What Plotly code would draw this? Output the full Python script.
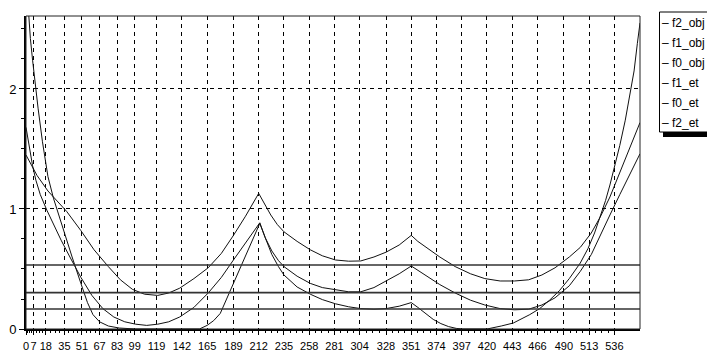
import plotly.graph_objects as go

# ---------------- data ----------------
x_ticks = [0, 7, 18, 35, 51, 67, 83, 99, 119, 142, 165, 189, 212, 235, 258,
           281, 304, 328, 351, 374, 397, 420, 443, 466, 490, 513, 536]
y_ticks = [0, 1, 2]

# top curve (min ~0.28)
x_f2_obj = [0, 5, 10, 20, 30, 37, 50, 62, 75, 86, 97, 108, 120, 130, 140, 153, 166,
            178, 189, 200, 212, 218, 223, 229, 235, 247, 259, 270, 282, 294, 305, 317,
            328, 340, 351, 357, 363, 370, 377, 391, 405, 418, 432, 445, 458, 470, 482,
            495, 505, 515, 523, 532, 541, 550, 559.4]
y_f2_obj = [1.45, 1.36, 1.28, 1.15, 1.05, 0.98, 0.82, 0.66, 0.52, 0.41, 0.33, 0.29,
            0.28, 0.30, 0.34, 0.42, 0.51, 0.63, 0.78, 0.94, 1.13, 1.03, 0.95, 0.87,
            0.81, 0.73, 0.66, 0.61, 0.575, 0.565, 0.567, 0.60, 0.64, 0.70, 0.78, 0.73,
            0.69, 0.64, 0.60, 0.52, 0.46, 0.42, 0.40, 0.40, 0.41, 0.45, 0.51, 0.60,
            0.68, 0.80, 0.93, 1.10, 1.30, 1.50, 1.72]

# middle curve (min ~0.03)
x_f1_obj = [0, 3, 6, 9, 13, 19, 25, 32, 40, 50, 60, 70, 80, 90, 100, 110, 120, 130,
            140, 153, 166, 178, 189, 200, 213, 218, 224, 230, 235, 247, 259, 270, 282,
            294, 305, 317, 328, 340, 351, 357, 363, 370, 377, 391, 405, 418, 432, 445,
            458, 470, 482, 495, 505, 515, 523, 532, 541, 550, 559.4]
y_f1_obj = [1.68, 1.50, 1.36, 1.24, 1.12, 0.99, 0.87, 0.74, 0.60, 0.43, 0.28, 0.17,
            0.10, 0.06, 0.04, 0.03, 0.04, 0.06, 0.10, 0.18, 0.30, 0.43, 0.575, 0.72,
            0.885, 0.76, 0.65, 0.57, 0.52, 0.44, 0.38, 0.345, 0.325, 0.31, 0.31, 0.345,
            0.40, 0.46, 0.525, 0.49, 0.45, 0.41, 0.37, 0.30, 0.24, 0.20, 0.17, 0.16,
            0.165, 0.20, 0.26, 0.36, 0.48, 0.62, 0.78, 0.95, 1.12, 1.28, 1.46]

# steep curve (touches 0)
x_f0_obj = [0, 2, 4, 6, 8, 11, 15, 20, 25, 29, 35, 42, 50, 56, 61, 67, 75, 85, 100,
            158, 165, 171, 177, 185, 193, 203, 213, 218, 224, 230, 235, 247, 259, 270,
            282, 294, 305, 317, 328, 340, 351, 357, 364, 371, 378, 385, 392, 398, 420,
            426, 433, 444, 451, 459, 468, 477, 486, 495, 505, 512, 518, 523, 528, 532,
            537, 541, 546, 550, 554, 557, 559.4]
y_f0_obj = [2.95, 2.65, 2.42, 2.24, 2.06, 1.84, 1.56, 1.27, 1.09, 0.97, 0.80, 0.60,
            0.38, 0.22, 0.12, 0.06, 0.025, 0.008, 0.0, 0.0, 0.03, 0.07, 0.13, 0.30,
            0.47, 0.67, 0.88, 0.76, 0.62, 0.52, 0.45, 0.35, 0.29, 0.245, 0.21, 0.185,
            0.17, 0.165, 0.17, 0.19, 0.22, 0.18, 0.13, 0.08, 0.045, 0.02, 0.005, 0.0,
            0.0, 0.01, 0.025, 0.05, 0.08, 0.12, 0.17, 0.24, 0.32, 0.42, 0.55, 0.67,
            0.80, 0.93, 1.07, 1.20, 1.37, 1.53, 1.74, 1.93, 2.15, 2.38, 2.55]

f1_et = 0.533
f0_et = 0.303
f2_et = 0.167

legend_names = ["f2_obj", "f1_obj", "f0_obj", "f1_et", "f0_et", "f2_et"]

X_MIN, X_MAX = 0, 559.4
Y_MIN, Y_MAX = 0, 2.608

# ---------------- layout geometry (page pixels) ----------------
PAGE_OFF = 8                      # default body margin of the html page
W, H = 715 - PAGE_OFF, 351 - PAGE_OFF
L, R, T, B = 26, 640, 16, 329     # plot area in page pixels


def px(xp):
    return (xp - L) / (R - L)


def py(yp):
    return (B - yp) / (B - T)


fig = go.Figure()

curve_style = dict(color="#111111", width=1)
for name, xs, ys in [("f2_obj", x_f2_obj, y_f2_obj),
                     ("f1_obj", x_f1_obj, y_f1_obj),
                     ("f0_obj", x_f0_obj, y_f0_obj)]:
    fig.add_trace(go.Scatter(x=xs, y=ys, mode="lines", name=name,
                             line=curve_style, showlegend=False, cliponaxis=True))

et_style = dict(color="#333333", width=1.6)
for name, v in [("f1_et", f1_et), ("f0_et", f0_et), ("f2_et", f2_et)]:
    fig.add_trace(go.Scatter(x=[X_MIN, X_MAX], y=[v, v], mode="lines", name=name,
                             line=et_style, showlegend=False))

# minor ticks (quarter points between labelled ticks)
x_minor = []
for a, b in zip(x_ticks[:-1], x_ticks[1:]):
    for k in (1, 2, 3):
        x_minor.append(a + (b - a) * k / 4)
y_minor = [0.25 * i for i in range(1, 11) if i % 4 != 0]

fig.update_xaxes(
    range=[X_MIN, X_MAX], tickmode="array", tickvals=x_ticks,
    ticktext=[str(v) for v in x_ticks], tickangle=0, automargin=False,
    showgrid=True, gridcolor="black", gridwidth=1, griddash="4px,4px",
    showline=True, linecolor="black", linewidth=2,
    ticks="outside", ticklen=4, tickcolor="black", tickwidth=1,
    ticklabelstandoff=2,
    tickfont=dict(family="Liberation Sans", size=11, color="black"),
    minor=dict(tickmode="array", tickvals=x_minor, ticks="outside", ticklen=2,
               tickcolor="black", showgrid=False),
    zeroline=False, fixedrange=True,
)
fig.update_yaxes(
    range=[Y_MIN, Y_MAX], tickmode="array", tickvals=y_ticks,
    ticktext=[str(v) for v in y_ticks], automargin=False,
    showgrid=True, gridcolor="black", gridwidth=1, griddash="4px,4px",
    showline=True, linecolor="black", linewidth=2,
    ticks="outside", ticklen=5, tickcolor="black", tickwidth=1,
    tickfont=dict(family="Liberation Sans", size=13, color="black"),
    minor=dict(tickmode="array", tickvals=y_minor, ticks="outside", ticklen=3,
               tickcolor="black", showgrid=False),
    zeroline=False, fixedrange=True,
)

shapes = [
    # plot border
    dict(type="rect", xref="paper", yref="paper", x0=0, x1=1, y0=0, y1=1,
         line=dict(color="#222222", width=1), layer="above"),
    # legend shadow
    dict(type="rect", xref="paper", yref="paper", x0=px(663), x1=px(720),
         y0=py(137), y1=py(132), fillcolor="black", line=dict(width=0)),
    # legend box
    dict(type="rect", xref="paper", yref="paper", x0=px(659.5), x1=px(720),
         y0=py(132), y1=py(12), fillcolor="white",
         line=dict(color="black", width=1)),
]

annotations = []
row_y = [23, 43, 63, 83, 103, 123]
for name, yy in zip(legend_names, row_y):
    annotations.append(dict(
        xref="paper", yref="paper", x=px(660), y=py(yy), xanchor="left",
        yanchor="middle", text="– " + name, showarrow=False,
        font=dict(family="Liberation Sans", size=12, color="black")))

fig.update_layout(
    width=W, height=H,
    margin=dict(l=L - PAGE_OFF, r=W - (R - PAGE_OFF), t=T - PAGE_OFF,
                b=H - (B - PAGE_OFF)),
    paper_bgcolor="white", plot_bgcolor="white",
    shapes=shapes, annotations=annotations, showlegend=False,
)

fig.write_html("out.html")
